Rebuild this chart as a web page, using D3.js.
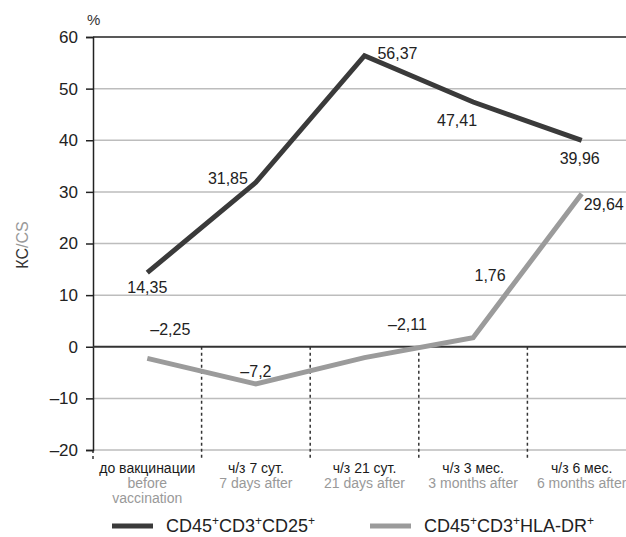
<!DOCTYPE html>
<html><head><meta charset="utf-8">
<script src="https://cdn.jsdelivr.net/npm/d3@7/dist/d3.min.js"></script>
<style>body{margin:0;background:#fff}svg{display:block}text{font-family:"Liberation Sans",Arial,sans-serif}</style>
</head><body>
<script>
const categoriesRu = ["до вакцинации","ч/з 7 сут.","ч/з 21 сут.","ч/з 3 мес.","ч/з 6 мес."];
const categoriesEn = [["before","vaccination"],["7 days after"],["21 days after"],["3 months after"],["6 months after"]];
const seriesCD25 = [14.35, 31.85, 56.37, 47.41, 39.96];
const seriesHLA = [-2.25, -7.2, -2.11, 1.76, 29.64];
const yTicks = [-20,-10,0,10,20,30,40,50,60];
// label offsets (layout)
const offCD25 = [[0,14],[-28,-4],[33,-3],[-16,18],[-2,18]];
const offHLA = [[23,-29],[0,-13],[43,-34],[17,-63],[22,10]];

const W=626,H=537;
const svg=d3.select("body").append("svg").attr("width",W).attr("height",H);
const x=d3.scaleBand().domain(d3.range(5)).range([93,636]);
const y=d3.scaleLinear().domain([-20,60]).range([450,37]);
const cx=i=>x(i)+x.bandwidth()/2;

// gridlines
svg.append("g").selectAll("line").data(yTicks.filter(v=>v!==0&&v!==60)).join("line")
 .attr("x1",93).attr("x2",W).attr("y1",d=>y(d)).attr("y2",d=>y(d))
 .attr("stroke","#bdbdbd").attr("stroke-width",1.5);
svg.append("line").attr("x1",93).attr("x2",W).attr("y1",y(60)).attr("y2",y(60)).attr("stroke","#222").attr("stroke-width",1.5);
// dashed separators
svg.append("g").selectAll("line").data(d3.range(1,5)).join("line")
 .attr("x1",d=>x(d)).attr("x2",d=>x(d)).attr("y1",y(0)).attr("y2",460)
 .attr("stroke","#333").attr("stroke-width",1.5).attr("stroke-dasharray","3,3");
svg.append("line").attr("x1",93).attr("x2",93).attr("y1",y(-20)).attr("y2",460)
 .attr("stroke","#333").attr("stroke-width",1.5).attr("stroke-dasharray","3,3");

// y axis
const ya=svg.append("g").attr("transform","translate(93,0)")
 .call(d3.axisLeft(y).tickValues(yTicks).tickSize(7).tickPadding(8).tickFormat(d=>d<0?"\u2013"+Math.abs(d):d));
ya.select(".domain").attr("stroke","#222").attr("stroke-width",1.5);
ya.selectAll(".tick line").attr("stroke","#222").attr("stroke-width",1.5);
ya.selectAll(".tick text").attr("font-size",17).attr("fill","#222").attr("font-family","Liberation Sans, Arial, sans-serif");
// zero line
svg.append("line").attr("x1",93).attr("x2",W).attr("y1",y(0)).attr("y2",y(0)).attr("stroke","#333").attr("stroke-width",2);

svg.append("text").attr("x",87).attr("y",25).attr("font-size",15).attr("fill","#333").text("%");
const yl=svg.append("text").attr("transform","translate(28,245) rotate(-90)").attr("text-anchor","middle").attr("font-size",16);
yl.append("tspan").attr("fill","#333").text("КС");
yl.append("tspan").attr("fill","#999").text("/CS");

// lines
const line=d3.line().x((d,i)=>cx(i)).y(d=>y(d));
svg.append("path").datum(seriesHLA).attr("d",line).attr("fill","none").attr("stroke","#9b9b9b").attr("stroke-width",5);
svg.append("path").datum(seriesCD25).attr("d",line).attr("fill","none").attr("stroke","#3a3a3a").attr("stroke-width",5);

const fmt=v=>(v<0?"\u2013":"")+String(Math.abs(v)).replace(".",",");
function labels(data,off){
 svg.append("g").selectAll("text").data(data).join("text")
  .attr("x",(d,i)=>cx(i)+off[i][0]).attr("y",(d,i)=>y(d)+off[i][1]+6)
  .attr("text-anchor","middle").attr("font-size",16).attr("fill","#222").text(fmt);
}
labels(seriesCD25,offCD25);
labels(seriesHLA,offHLA);

// category labels
const cg=svg.append("g").selectAll("g").data(categoriesRu).join("g");
cg.append("text").attr("x",(d,i)=>cx(i)).attr("y",473).attr("text-anchor","middle").attr("font-size",14).attr("fill","#1a1a1a").text(d=>d);
cg.each(function(d,i){
 d3.select(this).selectAll("text.en").data(categoriesEn[i]).join("text").attr("class","en")
  .attr("x",cx(i)).attr("y",(t,j)=>488+j*15).attr("text-anchor","middle").attr("font-size",14).attr("fill","#999").text(t=>t);
});

// legend
const legend=[{name:["CD45","CD3","CD25"],color:"#3a3a3a",x:112},{name:["CD45","CD3","HLA-DR"],color:"#9b9b9b",x:370}];
const lg=svg.append("g").selectAll("g").data(legend).join("g").attr("transform",d=>`translate(${d.x},526)`);
lg.append("line").attr("x1",0).attr("x2",41).attr("y1",0).attr("y2",0).attr("stroke",d=>d.color).attr("stroke-width",5);
lg.each(function(d){
 const t=d3.select(this).append("text").attr("x",54).attr("y",6).attr("font-size",18).attr("fill","#222");
 d.name.forEach((n,k)=>{
  t.append("tspan").attr("dy",k===0?0:7).text(n);
  t.append("tspan").attr("font-size",12).attr("dy",-7).text("+");
 });
});
</script>
</body></html>
